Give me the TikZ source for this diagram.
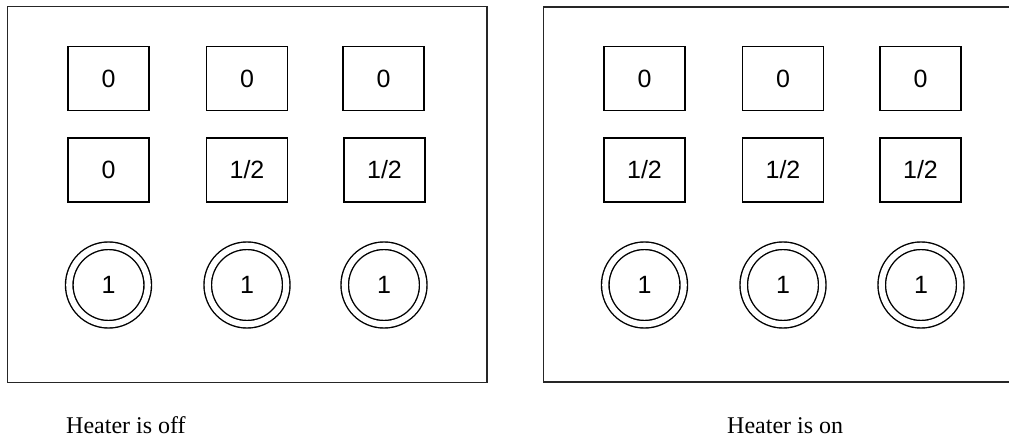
\documentclass[tikz,border=0pt]{standalone}
\usepackage{fontspec}
\setmainfont{Liberation Serif}
\newfontfamily\numfont{Liberation Sans}
\begin{document}
\begin{tikzpicture}[x=1pt,y=-1pt,
  frame/.style={draw=black!85,line width=1.8pt},
  knob/.style={draw=black,line width=1.5pt,minimum width=81pt,minimum height=64pt,
    inner sep=0pt,font=\numfont\fontsize{25}{25}\selectfont},
  dial/.style={draw=black,line width=1.4pt,circle,minimum size=78.5pt,inner sep=0pt,
    double=white,double distance=6.1pt,font=\numfont\fontsize{25}{25}\selectfont},
  caption/.style={font=\fontsize{24}{24}\selectfont,inner sep=0pt}]
\useasboundingbox (0,0) rectangle (1009,441);
\fill[white] (0,0) rectangle (1009,441);

% left panel
\draw[frame] (7.5,6.5) rectangle (487,382.5);
\node[knob] (la1) at (108.5,78.75) {0};
\node[knob] (la2) at (247,78.75) {0};
\node[knob] (la3) at (383.5,78.75) {0};
\node[knob] (lb1) at (108.5,170) {0};
\node[knob] (lb2) at (247,170) {1/2};
\node[knob] (lb3) at (384.5,170) {1/2};
\node[dial] (lc1) at (108.5,285) {1};
\node[dial] (lc2) at (247,285) {1};
\node[dial] (lc3) at (384,285) {1};
\node[caption,anchor=base west] (lcap) at (66,433) {Heater is off};

% right panel, running off the right edge
\coordinate (rtr) at (1010,7);
\coordinate (rbr) at (1010,382);
\draw[frame] (rtr) -- (543.5,7) -- (543.5,382) -- (rbr);
\node[knob] (ra1) at (644.5,78.75) {0};
\node[knob] (ra2) at (783,78.75) {0};
\node[knob] (ra3) at (920.5,78.75) {0};
\node[knob] (rb1) at (644.5,170) {1/2};
\node[knob] (rb2) at (783,170) {1/2};
\node[knob] (rb3) at (920.5,170) {1/2};
\node[dial] (rc1) at (644.5,285) {1};
\node[dial] (rc2) at (783,285) {1};
\node[dial] (rc3) at (921,285) {1};
\node[caption,anchor=base west] (rcap) at (727,433) {Heater is on};
\end{tikzpicture}
\end{document}
